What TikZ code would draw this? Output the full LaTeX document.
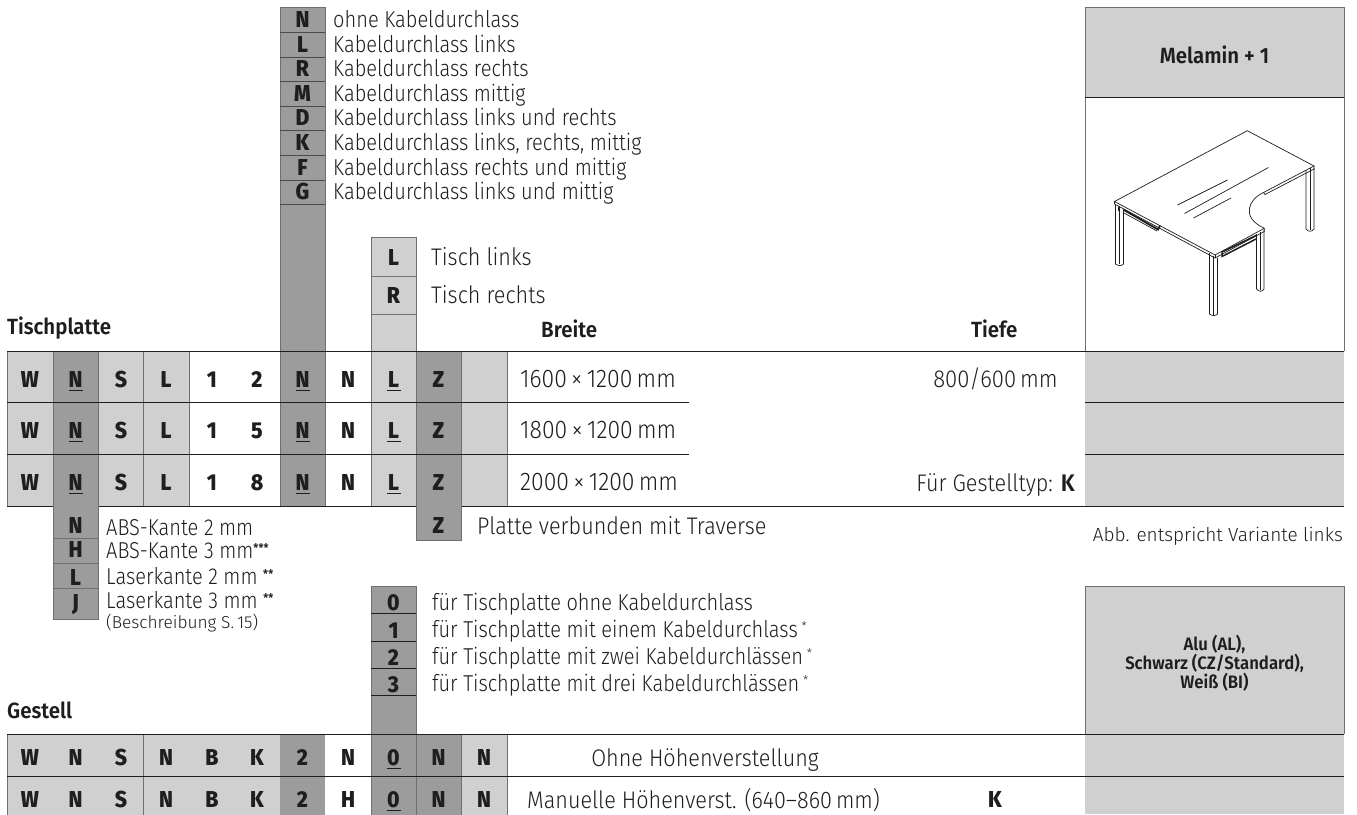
\documentclass[tikz,border=0pt]{standalone}
\usepackage{fontspec}
\setmainfont[FakeStretch=0.87]{Fira Sans Light}
\newfontfamily\plainf{Fira Sans Light}
\newfontfamily\widef[FakeStretch=0.9]{Fira Sans Light}
\newfontfamily\hv[FakeStretch=0.92]{Fira Sans ExtraBold}
\newfontfamily\bd[FakeStretch=0.93]{Fira Sans SemiBold}
\definecolor{lg}{HTML}{D0D0D0}
\definecolor{dg}{HTML}{9C9C9C}
\definecolor{ink}{HTML}{1E1E1E}
\definecolor{edge}{HTML}{707070}
\tikzset{
  x=1pt,y=-1pt,
  lab/.style={font=\hv\fontsize{23}{23}\selectfont,text=ink,anchor=base,inner sep=0pt},
  txt/.style={font=\fontsize{23}{23}\selectfont,text=ink,anchor=base west,inner sep=0pt},
  wtxt/.style={font=\widef\fontsize{24}{24}\selectfont,text=ink,anchor=base west,inner sep=0pt},
  head/.style={font=\bd\fontsize{22}{22}\selectfont,text=ink,anchor=base west,inner sep=0pt},
  rule/.style={draw=ink,line width=0.9pt},
  side/.style={draw=edge,line width=1pt},
}
\newcommand{\fb}[5]{\fill[#5] (#1,#2) rectangle (#3,#4);}
\newcommand{\lt}[3]{\node[lab] at (#1,#2) {#3};}
\newcommand{\ult}[3]{\node[lab] at (#1,#2) {#3}; \draw[draw=ink,line width=1.2pt] (#1-7,#2+3.5) -- (#1+7,#2+3.5);}
\newcommand{\tx}[3]{\node[txt] at (#1,#2) {#3};}
\newcommand{\wx}[3]{\node[wtxt] at (#1,#2) {#3};}
\newcommand{\stars}[1]{\raisebox{6pt}{\bd\fontsize{12}{12}\selectfont #1}}
\newcommand{\sstar}{\,\raisebox{7pt}{\plainf\fontsize{12}{12}\selectfont *}}
\begin{document}
\begin{tikzpicture}
\useasboundingbox (0,0) rectangle (1357,814);
\fill[white] (0,0) rectangle (1357,814);
\clip (0,0) rectangle (1357,814);
% ---------- top N column
\fb{280}{7}{325}{351}{dg}
\draw[side] (280,351) -- (280,7) -- (325,7) -- (325,351);
\foreach \y in {32,57,81,106,130,155,180,204} \draw[side,draw=ink!80] (280,\y) -- (325,\y);
\foreach \y/\l/\t in {27/N/ohne Kabeldurchlass,52/L/Kabeldurchlass links,76/R/Kabeldurchlass rechts,101/M/Kabeldurchlass mittig,125/D/Kabeldurchlass links und rechts,150/K/{Kabeldurchlass links, rechts, mittig},175/F/Kabeldurchlass rechts und mittig,199/G/Kabeldurchlass links und mittig}{
  \lt{302.5}{\y}{\l}\tx{333}{\y}{\t}}
% ---------- L/R
\fb{371}{237}{416}{351}{lg}
\draw[side] (371,351) -- (371,237) -- (416,237) -- (416,351);
\draw[side] (371,276) -- (416,276);
\draw[side] (371,314) -- (416,314);
\lt{393.5}{265}{L}\lt{393.5}{303}{R}
\wx{431}{265}{Tisch links}\wx{431}{303}{Tisch rechts}
% ---------- headers
\node[head] at (7,334) {Tischplatte};
\node[head] at (541,337) {Breite};
\node[head] at (971,337) {Tiefe};
\node[head] at (7,718) {Gestell};
% ---------- Tischplatte rows
\foreach \a/\b/\c in {351/402/lg,402/454/lg,454/506/lg}{
  \fb{7}{\a}{53}{\b}{lg}\fb{53}{\a}{98}{\b}{dg}\fb{98}{\a}{189}{\b}{lg}
  \fb{280}{\a}{325}{\b}{dg}\fb{371}{\a}{416}{\b}{lg}\fb{416}{\a}{461}{\b}{dg}\fb{461}{\a}{507}{\b}{lg}
  \fb{1085}{\a}{1344}{\b}{lg}}
\foreach \x in {7,53,98,143.5,189,280,325,371,416,461,507}
  \draw[side] (\x,351) -- (\x,506);
\draw[rule] (7,351) -- (1344,351);
\draw[rule] (7,402.5) -- (689,402.5);
\draw[rule] (7,454) -- (689,454);
\draw[rule] (7,506) -- (1085,506);
\draw[rule] (1085,402.5) -- (1344,402.5);
\draw[rule] (1085,454) -- (1344,454);
\draw[rule] (1085,506) -- (1344,506);
\foreach \y/\p/\q/\w in {387/1/2/1600,438/1/5/1800,490/1/8/2000}{
  \lt{30}{\y}{W}\ult{75.5}{\y}{N}\lt{121}{\y}{S}\lt{166}{\y}{L}
  \lt{212}{\y}{\p}\lt{257}{\y}{\q}\ult{302.5}{\y}{N}\lt{348}{\y}{N}\ult{393.5}{\y}{L}\lt{438.5}{\y}{Z}
  \node[wtxt,font=\widef\fontsize{25.5}{25}\selectfont] at (520,\y+0.7) {\w\,×\,1200\,mm};}
\node[wtxt,anchor=base east,font=\widef\fontsize{24.5}{25}\selectfont] at (1058,387) {800/600\,mm};
\node[wtxt,anchor=base east] (fg) at (1075,491) {Für Gestelltyp: {\bd K}};
% ---------- below Tischplatte
\fb{53}{506}{98}{619}{dg}
\draw[side] (53,506) -- (53,619) -- (98,619) -- (98,506);
\foreach \y in {538,563,588} \draw[side] (53,\y) -- (98,\y);
\foreach \y/\l in {533/N,557/H,585/L,610/J}{\lt{75.5}{\y}{\l}}
\tx{106}{535}{ABS-Kante 2 mm}
\tx{106}{558}{ABS-Kante 3 mm\stars{***}}
\tx{106}{584}{Laserkante 2 mm \stars{**}}
\tx{106}{608}{Laserkante 3 mm \stars{**}}
\node[txt,font=\plainf\fontsize{17.3}{17}\selectfont] at (106,628) {(Beschreibung S.\,15)};
% Z
\fb{416}{506}{461}{540}{dg}
\draw[side] (416,506) -- (416,540) -- (461,540) -- (461,506);
\lt{438.5}{533}{Z}
\wx{477}{534}{Platte verbunden mit Traverse}
\node[txt,anchor=base east,font=\plainf\fontsize{19}{19}\selectfont] at (1343,541) {Abb. entspricht Variante links};
% ---------- 0 column
\fb{371}{586}{416}{734}{dg}
\draw[side] (371,734) -- (371,586) -- (416,586) -- (416,734);
\foreach \y in {613,641,668,695} \draw[rule] (371,\y) -- (416,\y);
\foreach \y/\l in {610/0,638/1,665/2,692/3}{\lt{393.5}{\y}{\l}}
\tx{432}{610}{für Tischplatte ohne Kabeldurchlass}
\tx{432}{637}{für Tischplatte mit einem Kabeldurchlass\sstar}
\tx{432}{664}{für Tischplatte mit zwei Kabeldurchlässen\sstar}
\tx{432}{691}{für Tischplatte mit drei Kabeldurchlässen\sstar}
% ---------- right panels
\fb{1085}{7}{1344}{97}{lg}
\draw[side] (1085,351) -- (1085,7) -- (1344,7) -- (1344,351);
\draw[rule] (1085,97) -- (1344,97);
\node[head,anchor=base] at (1214.5,63) {Melamin + 1};
\fb{1085}{586}{1344}{734}{lg}
\draw[side] (1085,734) -- (1085,586) -- (1344,586) -- (1344,734);
\fb{1085}{734}{1344}{776}{lg}\fb{1085}{776}{1344}{814}{lg}
\foreach \y/\t in {650/{Alu (AL),},669/{Schwarz (CZ/Standard),},688/{Weiß (BI)}}
  {\node[head,anchor=base,font=\bd\fontsize{18}{18}\selectfont] at (1214.5,\y) {\t};}
% ---------- Gestell rows
\foreach \a/\b in {734/776,776/816}{
  \fb{7}{\a}{280}{\b}{lg}\fb{280}{\a}{325}{\b}{dg}\fb{371}{\a}{461}{\b}{dg}\fb{461}{\a}{507}{\b}{lg}}
\foreach \x in {7,143.5,371,416,461,507}
  \draw[side] (\x,734) -- (\x,816);
\draw[rule] (7,734) -- (1344,734);
\draw[rule] (7,776) -- (1344,776);
\foreach \y/\h in {765/N,807/H}{
  \lt{30}{\y}{W}\lt{75.5}{\y}{N}\lt{121}{\y}{S}\lt{166}{\y}{N}\lt{212}{\y}{B}\lt{257}{\y}{K}
  \lt{302.5}{\y}{2}\lt{348}{\y}{\h}\ult{393.5}{\y}{0}\lt{438.5}{\y}{N}\lt{484}{\y}{N}}
\node[wtxt,anchor=base] at (705,766) {Ohne Höhenverstellung};
\wx{527}{808}{Manuelle Höhenverst. (640–860\,mm)}
\node[lab] at (995,807) {K};
% ---------- desk drawing
\begin{scope}[line width=0.7pt,draw=ink]
\coordinate (A) at (1114.5,201.5);
\coordinate (B) at (1247.3,130.7);
\coordinate (C) at (1314,166);
\coordinate (D) at (1263.5,192.5);
\coordinate (E) at (1264.3,228.3);
\coordinate (F) at (1215,255);
\draw (A) -- (B) -- (C) -- (D) .. controls (1249,199) and (1240,217) .. (E) -- (F) -- cycle;
\draw (1114.5,204) -- (1215,258) -- (1264.3,231.5) -- (E);
\draw (1215,255) -- (1215,258);
\draw (1114.5,201.5) -- (1114.5,204);
\draw (C) -- (1314,169) -- (1265,194.5) -- (D);
\draw (1177.5,205) -- (1227.5,180);
\draw (1184.5,213.5) -- (1268.5,167.5);
\draw (1193.5,218) -- (1231,198);
\draw (1115.5,205) -- (1115.5,264) .. controls (1118,266) and (1122,266) .. (1123.5,264) -- (1123.5,209);
\draw (1119,206) -- (1119,264);
\draw (1209.5,253) -- (1209.5,314) .. controls (1212,316) and (1216,316) .. (1217.5,314) -- (1217.5,258);
\draw (1213.5,256) -- (1213.5,315);
\draw (1256.5,234) -- (1256.5,289) .. controls (1259,292) and (1262,292) .. (1264,289) -- (1264,230);
\draw (1260,232) -- (1260,290);
\draw (1306,170) -- (1306,229) .. controls (1308,232) and (1312,232) .. (1314,229) -- (1314,168);
\draw (1310,168) -- (1310,230);
\draw[line width=1.8pt] (1124,210) -- (1158,229.5) -- (1160,225.5);
\draw (1124,213) -- (1157,231);
\draw[line width=1.5pt] (1222,252) -- (1256,235.5);
\draw[line width=1.5pt] (1222,252) -- (1222,256.5) -- (1256,239);
\draw (1118,206.5) -- (1118,211);
\end{scope}
\end{tikzpicture}
\end{document}
